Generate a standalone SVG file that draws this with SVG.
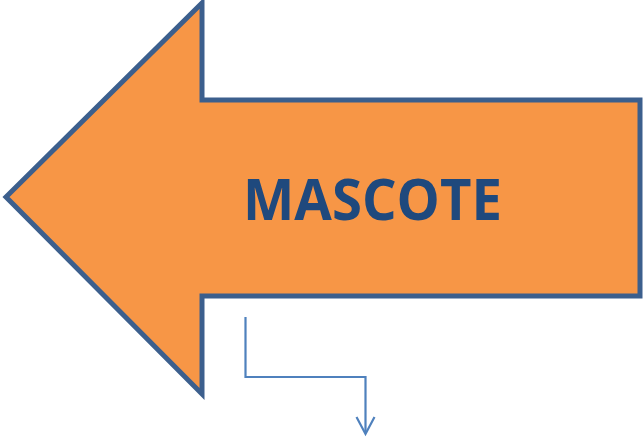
<svg xmlns="http://www.w3.org/2000/svg" width="643" height="441" viewBox="0 0 643 441">
<style>
.shape{fill:#F79646;stroke:#3C5F8D;stroke-width:5;stroke-linejoin:miter}
.label{font-family:"Open Sans","Liberation Sans",sans-serif;font-weight:bold;font-size:57px;fill:#1F497D}
.conn{fill:none;stroke:#4F81BD;stroke-width:2.2}
</style>
<rect width="643" height="441" fill="#ffffff"/>
<g id="arrow-mascote">
<polygon class="shape" points="6,197 202,3 202,100 640,100 640,296 202,296 202,394"/>
<text class="label" x="372.5" y="220" text-anchor="middle" textLength="259" lengthAdjust="spacingAndGlyphs">MASCOTE</text>
</g>
<g id="connectors">
<polyline class="conn" points="245.5,317 245.5,377 365.5,377 365.5,433"/>
<polyline class="conn" points="356.5,417 365.5,434 374.5,417"/>
</g>
</svg>
